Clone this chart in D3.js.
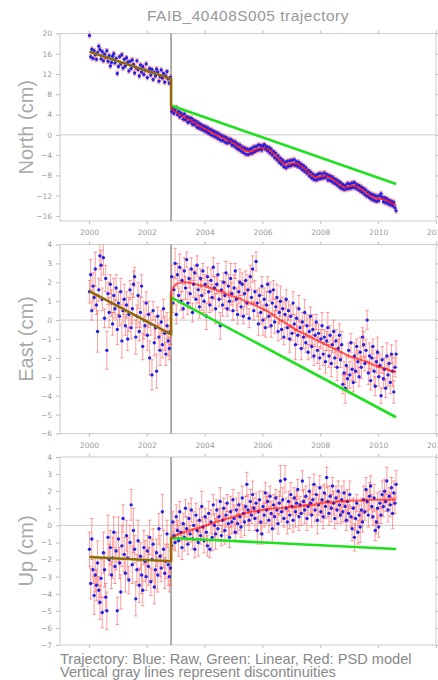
<!DOCTYPE html>
<html>
<head>
<meta charset="utf-8">
<script src="https://cdn.jsdelivr.net/npm/d3@7"></script>
<style>
  html, body { margin: 0; padding: 0; background: #fff; }
  svg { display: block; }
</style>
</head>
<body>
<svg id="chart" width="438" height="680"></svg>
<script>
// ---- Observation epochs (decimal years) ----
const epochs = [
  2000.02,2000.06,2000.10,2000.14,2000.18,2000.22,2000.26,2000.30,2000.34,2000.38,
  2000.42,2000.46,2000.50,2000.54,2000.58,2000.62,2000.66,2000.70,2000.74,2000.78,
  2000.82,2000.86,2000.90,2000.94,2000.98,2001.02,2001.06,2001.10,2001.14,2001.18,
  2001.22,2001.26,2001.30,2001.34,2001.38,2001.42,2001.46,2001.50,2001.54,2001.58,
  2001.62,2001.66,2001.70,2001.74,2001.78,2001.82,2001.86,2001.90,2001.94,2001.98,
  2002.02,2002.06,2002.10,2002.14,2002.18,2002.22,2002.26,2002.30,2002.34,2002.38,
  2002.42,2002.46,2002.50,2002.54,2002.58,2002.62,2002.66,2002.70,2002.74,2002.78,
  2002.82,
  2002.86,2002.90,2002.94,2002.98,2003.02,2003.06,2003.10,2003.14,2003.18,2003.22,
  2003.26,2003.30,2003.34,2003.38,2003.42,2003.46,2003.50,2003.54,2003.58,2003.62,
  2003.66,2003.70,2003.74,2003.78,2003.82,2003.86,2003.90,2003.94,2003.98,2004.02,
  2004.06,2004.10,2004.14,2004.18,2004.22,2004.26,2004.30,2004.34,2004.38,2004.42,
  2004.46,2004.50,2004.54,2004.58,2004.62,2004.66,2004.70,2004.74,2004.78,2004.82,
  2004.86,2004.90,2004.94,2004.98,2005.02,2005.06,2005.10,2005.14,2005.18,2005.22,
  2005.26,2005.30,2005.34,2005.38,2005.42,2005.46,2005.50,2005.54,2005.58,2005.62,
  2005.66,2005.70,2005.74,2005.78,2005.82,2005.86,2005.90,2005.94,2005.98,2006.02,
  2006.06,2006.10,2006.14,2006.18,2006.22,2006.26,2006.30,2006.34,2006.38,2006.42,
  2006.46,2006.50,2006.54,2006.58,2006.62,2006.66,2006.70,2006.74,2006.78,2006.82,
  2006.86,2006.90,2006.94,2006.98,2007.02,2007.06,2007.10,2007.14,2007.18,2007.22,
  2007.26,2007.30,2007.34,2007.38,2007.42,2007.46,2007.50,2007.54,2007.58,2007.62,
  2007.66,2007.70,2007.74,2007.78,2007.82,2007.86,2007.90,2007.94,2007.98,2008.02,
  2008.06,2008.10,2008.14,2008.18,2008.22,2008.26,2008.30,2008.34,2008.38,2008.42,
  2008.46,2008.50,2008.54,2008.58,2008.62,2008.66,2008.70,2008.74,2008.78,2008.82,
  2008.86,2008.90,2008.94,2008.98,2009.02,2009.06,2009.10,2009.14,2009.18,2009.22,
  2009.26,2009.30,2009.34,2009.38,2009.42,2009.46,2009.50,2009.54,2009.58,2009.62,
  2009.66,2009.70,2009.74,2009.78,2009.82,2009.86,2009.90,2009.94,2009.98,2010.02,
  2010.06,2010.10,2010.14,2010.18,2010.22,2010.26,2010.30,2010.34,2010.38,2010.42,
  2010.46,2010.50,2010.54,2010.58,2010.62
];

// ---- Raw positions (cm) ----
const north = [
  19.6,15.4,16.9,15.1,16.6,15.8,14.9,16.2,17.5,16.8,
  15.0,16.4,14.6,15.9,15.3,16.6,14.5,15.6,13.6,14.3,
  15.5,16.0,14.2,15.1,12.1,13.5,15.4,14.0,15.8,13.2,
  14.9,13.6,15.2,14.3,12.6,14.5,13.1,14.8,13.9,12.2,
  13.3,14.6,12.9,11.6,13.8,12.4,13.5,11.9,12.8,14.0,
  11.3,12.6,13.1,11.8,12.9,10.9,12.3,11.6,13.0,12.4,
  10.6,11.5,12.8,11.2,12.1,10.4,11.6,12.5,11.0,10.2,
  11.4,
  4.6,5.3,4.2,4.9,5.4,4.0,4.6,3.5,4.3,3.9,
  3.1,4.1,3.0,3.6,2.5,3.4,2.6,3.3,2.1,2.9,
  2.0,2.7,1.5,2.4,1.3,2.1,1.1,1.8,0.8,1.6,
  0.6,1.4,0.3,1.1,0.0,0.9,-0.2,0.6,-0.4,0.4,
  -0.7,0.2,-1.0,-0.1,-1.1,-0.3,-1.4,-0.5,-1.6,-0.8,
  -1.5,-0.9,-2.0,-1.2,-2.2,-1.4,-2.6,-1.8,-2.9,-2.0,
  -3.2,-2.4,-3.5,-2.6,-3.8,-2.8,-3.9,-2.9,-3.7,-2.7,
  -3.6,-2.4,-3.3,-2.3,-3.1,-2.0,-2.9,-2.1,-3.0,-2.2,
  -1.9,-2.8,-2.3,-3.2,-2.5,-3.6,-2.8,-4.0,-3.3,-4.5,
  -3.6,-4.9,-4.1,-5.4,-4.6,-5.8,-5.0,-6.3,-5.4,-6.5,
  -5.2,-6.2,-5.1,-6.1,-5.0,-5.9,-4.9,-6.0,-5.3,-6.2,
  -5.4,-6.5,-5.8,-6.9,-6.1,-7.2,-6.5,-7.6,-7.0,-8.1,
  -7.3,-8.5,-7.7,-8.8,-8.0,-8.9,-7.8,-8.7,-7.6,-8.6,
  -7.7,-8.5,-7.5,-8.4,-7.8,-8.9,-8.0,-9.0,-8.2,-9.3,
  -8.5,-9.6,-8.8,-9.9,-9.1,-10.3,-9.4,-10.6,-9.8,-10.8,
  -10.0,-10.7,-9.6,-10.6,-9.7,-10.5,-9.5,-10.4,-9.4,-10.5,
  -9.8,-10.8,-10.0,-11.1,-10.3,-11.4,-10.6,-11.8,-10.9,-12.1,
  -11.3,-12.4,-11.6,-12.7,-11.8,-12.9,-12.0,-13.1,-12.1,-13.0,
  -12.0,-11.6,-12.3,-13.2,-12.4,-13.4,-12.6,-13.6,-12.9,-13.8,
  -13.1,-14.0,-13.3,-14.4,-15.0
];

const east = [
  1.5,2.4,0.5,1.8,1.2,2.7,0.8,-0.6,1.6,3.4,
  2.9,1.1,3.3,0.1,2.2,-1.6,1.4,0.4,1.9,0.9,
  -0.2,1.3,0.6,1.7,-0.5,0.9,0.2,1.5,-1.1,0.5,
  1.1,-0.3,0.8,-1.0,0.3,1.6,-0.4,0.6,1.9,2.3,
  -0.9,0.2,1.3,-0.6,0.4,1.8,-1.4,0.0,-0.3,0.9,
  -0.8,0.3,-2.0,-0.2,-2.9,0.5,-1.2,-0.4,-2.7,0.2,
  -0.9,-1.6,-0.1,-1.3,0.6,-0.7,-1.8,-0.3,-1.1,-1.5,
  -0.6,
  2.3,0.9,1.6,3.0,0.3,2.4,1.3,2.8,1.0,2.1,
  0.6,2.6,1.7,3.2,0.9,2.2,1.4,2.7,0.4,1.9,
  2.5,1.1,2.9,1.6,0.7,2.2,1.3,2.6,1.0,1.9,
  0.2,2.3,1.5,0.8,2.1,1.2,2.8,1.7,0.6,1.9,
  2.4,1.1,-0.3,1.6,0.8,2.0,1.3,2.5,0.6,1.8,
  1.0,2.2,1.4,0.5,1.7,2.6,1.1,0.3,1.5,2.0,
  0.7,1.9,0.2,1.4,2.1,0.9,1.6,0.1,2.3,1.2,
  2.7,0.5,1.5,3.1,0.9,-0.2,1.3,0.4,1.8,0.0,
  1.1,-0.4,0.8,1.9,0.2,1.5,-0.3,0.9,1.6,-0.1,
  0.7,1.2,-0.6,0.4,1.0,-0.5,0.6,-0.9,0.3,1.1,
  -0.4,0.5,-1.0,0.2,-0.7,0.9,-0.2,-1.3,0.1,-0.8,
  0.6,-0.4,-1.5,-0.1,-0.9,0.4,-1.2,-0.3,-1.7,-0.6,
  0.2,-1.4,-0.5,-1.9,-0.8,-0.1,-1.6,-0.7,-2.0,-1.0,
  -0.3,-1.8,-0.9,-2.2,-1.1,-0.4,-1.9,-0.8,-2.3,-1.3,
  -0.6,-2.0,-1.1,-2.5,-1.5,-0.8,-2.1,-1.3,-3.4,-2.8,
  -3.6,-2.4,-3.1,-1.6,-2.9,-1.2,-2.6,-3.3,-1.9,-2.7,
  -1.4,-2.2,-3.0,-1.7,-2.5,-0.9,-1.3,-2.3,-1.6,0.0,
  -2.8,-1.9,-3.2,-2.0,-1.4,-2.7,-3.5,-2.2,-1.7,-3.0,
  -2.4,-4.0,-2.1,-3.1,-2.6,-3.6,-1.9,-2.9,-2.3,-3.3,
  -1.8,-2.7,-3.8,-2.5,-1.8
];

const up = [
  -1.4,-3.4,-0.8,-2.6,-4.1,-2.9,-3.5,-2.2,-3.8,-4.5,
  -3.1,-5.1,-1.6,-2.6,-4.2,-5.0,-0.7,-2.0,-1.3,-2.9,
  -1.9,-0.4,-2.4,-1.5,-5.0,-0.8,-2.2,-3.9,-1.2,0.4,
  -1.7,-2.8,-0.6,-1.9,-3.2,-1.0,1.2,-2.3,-0.3,-1.4,
  -4.3,-2.6,-0.9,-3.5,-1.8,-2.9,-3.8,-1.3,-2.1,-3.0,
  -1.5,-2.4,-0.7,-3.3,-2.0,-1.1,-3.6,-2.6,-1.6,-2.9,
  -0.2,-1.8,-2.5,0.8,-1.4,-2.8,-2.1,-0.5,-2.3,-3.0,
  -2.5,
  -1.2,0.2,-0.6,-1.0,0.5,-0.3,-0.9,0.8,-0.4,-1.3,
  0.1,-0.7,1.0,-0.2,-1.1,0.4,-0.5,0.9,-0.8,0.0,
  -1.4,0.6,-0.3,-1.0,0.3,-0.6,1.1,-0.1,-0.9,0.5,
  -0.4,-1.2,0.7,-1.4,0.2,-0.7,1.2,0.0,-0.5,0.9,
  -0.2,0.5,1.4,-0.6,0.3,1.0,-0.3,0.6,1.3,0.1,
  -0.7,0.8,0.2,1.5,0.4,-0.4,0.9,0.1,1.2,0.5,
  -0.1,1.6,0.7,0.2,1.1,2.4,0.9,0.3,1.4,0.6,
  1.8,1.0,0.4,1.3,-0.3,0.8,1.5,0.2,-0.5,1.1,
  0.6,1.9,0.9,1.4,0.3,1.7,0.7,-0.2,1.2,0.5,
  1.6,0.9,0.1,1.3,2.6,0.8,1.5,0.4,2.7,1.0,
  0.2,1.4,0.6,1.8,1.1,0.3,1.6,0.8,1.3,2.1,
  0.5,1.2,0.7,2.6,1.4,0.9,1.7,0.4,1.1,2.0,
  1.3,0.6,1.5,2.4,0.9,1.8,0.3,1.2,2.2,0.8,
  1.5,0.5,1.9,1.1,2.8,1.4,0.7,1.7,1.0,2.3,
  1.3,0.4,1.6,0.9,2.0,1.2,0.6,1.5,0.8,1.9,
  1.1,0.3,1.4,0.7,1.8,0.5,-0.2,1.0,-0.7,0.4,
  1.3,-0.4,0.6,-0.1,0.9,0.2,1.5,0.8,2.1,1.4,
  0.6,1.7,2.3,1.1,0.5,1.6,-0.3,0.2,1.0,-0.1,
  1.3,0.6,1.8,1.1,2.0,1.4,2.6,0.9,1.7,1.2,
  2.2,0.7,1.9,1.3,2.4
];

// ---- One-sigma uncertainties (cm) ----
const sigmaNorth = 0.45;

const sigmaEast = [
  .6,.8,.5,.7,.6,.9,.5,1.1,.6,.7,
  .8,.6,.9,.5,.7,1.0,.6,.8,.5,.7,
  .6,.9,.5,.7,.8,.6,.5,.7,.9,.6,
  .8,.5,.7,.6,.9,.5,.6,.8,.7,.5,
  .9,.6,.7,.5,.8,.6,.7,1.0,.5,.6,
  .8,.7,.9,.6,.8,.5,.7,.6,.9,.5,
  .7,.8,.6,.7,.5,.9,.6,.7,.8,.6,
  .7,
  .6,.5,.7,.8,.5,.6,.4,.7,.5,.6,
  .5,.7,.6,.4,.6,.5,.8,.6,.5,.7,
  .4,.6,.5,.7,.6,.5,.8,.4,.6,.5,
  .7,.5,.6,.4,.6,.7,.5,.6,.8,.5,
  .6,.4,.7,.5,.6,.5,.7,.6,.4,.6,
  .5,.8,.6,.5,.7,.4,.6,.5,.6,.7,
  .5,.6,.4,.7,.5,.6,.8,.5,.6,.4,
  .7,.5,.6,.5,.7,.6,.4,.6,.5,.8,
  .6,.5,.7,.4,.6,.5,.6,.7,.5,.6,
  .4,.7,.5,.6,.8,.5,.6,.4,.7,.5,
  .6,.5,.7,.6,.4,.6,.5,.8,.6,.5,
  .7,.4,.6,.5,.6,.7,.5,.6,.4,.7,
  .5,.6,.8,.5,.6,.4,.7,.5,.6,.5,
  .7,.6,.4,.6,.5,.8,.6,.5,.7,.4,
  .6,.5,.6,.7,.5,.6,.4,.7,.5,.6,
  .8,.5,.6,.4,.7,.5,.6,.5,.7,.6,
  .4,.6,.5,.8,.6,.5,.7,.4,.6,.5,
  .6,.7,.5,.6,.4,.7,.5,.6,.8,.5,
  .6,.4,.7,.5,.6,.5,.7,.6,.4,.6,
  .5,.8,.6,.5,.7
];

const sigmaUp = [
  1.0,.9,1.2,.8,1.1,1.0,.9,1.3,.8,1.0,
  1.1,.9,1.2,1.0,.8,1.1,1.3,.9,1.0,.8,
  1.2,.9,1.0,1.1,.8,1.3,.9,1.0,1.2,.8,
  1.0,1.1,.9,1.2,.8,1.0,.9,1.1,1.3,.8,
  1.0,.9,1.2,1.0,.8,1.1,.9,1.0,1.2,.8,
  .9,1.1,1.0,.8,1.2,.9,1.0,1.1,.8,1.0,
  .9,1.2,.8,1.0,1.1,.9,1.0,.8,1.2,.9,
  1.0,
  .7,.6,.8,.5,.7,.6,.9,.6,.5,.7,
  .6,.8,.5,.7,.6,.9,.5,.7,.6,.8,
  .5,.7,.6,.8,.7,.5,.9,.6,.7,.5,
  .8,.6,.7,.5,.7,.8,.6,.7,.9,.6,
  .7,.5,.8,.6,.7,.6,.8,.7,.5,.7,
  .6,.9,.7,.6,.8,.5,.7,.6,.7,.8,
  .6,.7,.5,.8,.6,.7,.9,.6,.7,.5,
  .8,.6,.7,.6,.8,.7,.5,.7,.6,.9,
  .7,.6,.8,.5,.7,.6,.7,.8,.6,.7,
  .5,.8,.6,.7,.9,.6,.7,.5,.8,.6,
  .7,.6,.8,.7,.5,.7,.6,.9,.7,.6,
  .8,.5,.7,.6,.7,.8,.6,.7,.5,.8,
  .6,.7,.9,.6,.7,.5,.8,.6,.7,.6,
  .8,.7,.5,.7,.6,.9,.7,.6,.8,.5,
  .7,.6,.7,.8,.6,.7,.5,.8,.6,.7,
  .9,.6,.7,.5,.8,.6,.7,.6,.8,.7,
  .5,.7,.6,.9,.7,.6,.8,.5,.7,.6,
  .7,.8,.6,.7,.5,.8,.6,.7,.9,.6,
  .7,.5,.8,.6,.7,.6,.8,.7,.5,.7,
  .6,.9,.7,.6,.8
];

// ---- PSD model (red) ----
const modelEpochs = [
  2000.02, 2002.84, 2002.84,
  2003.0, 2003.2, 2003.4, 2003.6, 2003.8, 2004.0, 2004.2, 2004.4, 2004.6, 2004.8,
  2005.0, 2005.2, 2005.4, 2005.6, 2005.8, 2006.0, 2006.2, 2006.4, 2006.6, 2006.8,
  2007.0, 2007.2, 2007.4, 2007.6, 2007.8, 2008.0, 2008.2, 2008.4, 2008.6, 2008.8,
  2009.0, 2009.2, 2009.4, 2009.6, 2009.8, 2010.0, 2010.2, 2010.4,
  2010.62
];
const modelNorth = [
  16.41, 11.05, 5.2,
  4.6, 3.8, 3.2, 2.6, 1.8, 1.2, 0.6, 0.0, -0.5, -1.1,
  -1.6, -2.4, -3.1, -3.3, -2.9, -2.6, -2.8, -3.8, -5.0, -5.9,
  -5.7, -5.6, -6.4, -7.5, -8.4, -8.2, -8.1, -8.6, -9.5, -10.3,
  -10.2, -10.0, -10.6, -11.5, -12.3, -12.6, -12.7, -13.2,
  -13.9
];
const modelEast = [
  1.53, -0.75, 1.5,
  1.9, 2.0, 2.0, 1.95, 1.85, 1.8, 1.7, 1.6, 1.5, 1.35,
  1.25, 1.15, 1.0, 0.9, 0.75, 0.6, 0.45, 0.25, 0.0, -0.15,
  -0.35, -0.55, -0.7, -0.85, -1.0, -1.15, -1.3, -1.45, -1.6, -1.75,
  -1.9, -2.0, -2.1, -2.2, -2.35, -2.45, -2.55, -2.65,
  -2.75
];
const modelUp = [
  -1.85, -2.1, -0.74,
  -0.6, -0.45, -0.35, -0.25, -0.15, -0.05, 0.1, 0.2, 0.3, 0.4,
  0.5, 0.6, 0.7, 0.8, 0.85, 0.9, 0.95, 1.0, 1.0, 1.05,
  1.1, 1.1, 1.15, 1.2, 1.2, 1.3, 1.35, 1.35, 1.4, 1.4,
  1.45, 1.45, 1.45, 1.5, 1.5, 1.5, 1.5, 1.5,
  1.5
];

// ---- Linear trajectory (green) ----
const linearEpochs = [2000.02, 2002.84, 2002.84, 2010.62];
const linearNorth = [16.41, 11.05, 5.8, -9.7];
const linearEast = [1.53, -0.75, 1.2, -5.14];
const linearUp = [-1.85, -2.1, -0.74, -1.38];

// ---- Discontinuities and axis ticks ----
const discontinuities = [2002.84];
const yearTicks = [2000, 2002, 2004, 2006, 2008, 2010, 2012];
const northTicks = [-16, -12, -8, -4, 0, 4, 8, 12, 16, 20];
const eastTicks = [-6, -5, -4, -3, -2, -1, 0, 1, 2, 3, 4];
const upTicks = [-7, -6, -5, -4, -3, -2, -1, 0, 1, 2, 3, 4];

const title = "FAIB_40408S005 trajectory";
const footer = [
  "Trajectory: Blue: Raw, Green: Linear, Red: PSD model",
  "Vertical gray lines represent discontinuities"
];

// ---- Drawing ----
const svg = d3.select("#chart");
const x = d3.scaleLinear().domain([1999, 2012]).range([60, 436]);
const [L, R] = x.range();

const panels = [
  { label: "North (cm)", values: north, sigma: () => sigmaNorth, model: modelNorth,
    linear: linearNorth, domain: [-17, 20], ticks: northTicks, top: 33.5, bottom: 221, years: true },
  { label: "East (cm)", values: east, sigma: i => sigmaEast[i], model: modelEast,
    linear: linearEast, domain: [-6, 4], ticks: eastTicks, top: 244.5, bottom: 433.5, years: true },
  { label: "Up (cm)", values: up, sigma: i => sigmaUp[i], model: modelUp,
    linear: linearUp, domain: [-7, 4], ticks: upTicks, top: 457, bottom: 645, years: false }
];

svg.append("text")
  .attr("x", (L + R) / 2).attr("y", 20.5)
  .attr("text-anchor", "middle")
  .attr("font-family", "Liberation Sans, Arial, sans-serif")
  .attr("font-size", 15.5).attr("letter-spacing", 0.5)
  .attr("fill", "#999")
  .text(title);

const tickFont = g => g
  .attr("font-family", "DejaVu Sans, sans-serif")
  .attr("font-size", 7.5)
  .call(s => s.select(".domain").remove())
  .call(s => s.selectAll(".tick line").attr("stroke", "#bbb"))
  .call(s => s.selectAll(".tick text").attr("fill", "#999"));

panels.forEach((p, pi) => {
  const y = d3.scaleLinear().domain(p.domain).range([p.bottom, p.top]);
  const g = svg.append("g");
  const clipId = "clip" + pi;
  svg.append("clipPath").attr("id", clipId)
    .append("rect").attr("x", L).attr("y", p.top).attr("width", R - L).attr("height", p.bottom - p.top);

  // axes on all four sides
  g.append("g").attr("transform", `translate(${L},0)`)
    .call(d3.axisLeft(y).tickValues(p.ticks).tickSize(4).tickPadding(4)).call(tickFont);
  g.append("g").attr("transform", `translate(${R},0)`)
    .call(d3.axisRight(y).tickValues(p.ticks).tickSize(3).tickFormat("")).call(tickFont);
  g.append("g").attr("transform", `translate(0,${p.top})`)
    .call(d3.axisTop(x).tickValues(yearTicks).tickSize(3).tickFormat("")).call(tickFont);
  g.append("g").attr("transform", `translate(0,${p.bottom})`)
    .call(d3.axisBottom(x).tickValues(yearTicks).tickSize(3).tickPadding(6)
      .tickFormat(p.years ? d3.format("d") : "")).call(tickFont);

  // frame and zero line
  g.append("rect").attr("x", L).attr("y", p.top)
    .attr("width", R - L).attr("height", p.bottom - p.top)
    .attr("fill", "none").attr("stroke", "#ccc").attr("stroke-width", 1);
  g.append("line").attr("x1", L).attr("x2", R)
    .attr("y1", y(0)).attr("y2", y(0))
    .attr("stroke", "#ccc").attr("stroke-width", 1);

  // discontinuities
  g.selectAll("line.disc").data(discontinuities).join("line")
    .attr("class", "disc")
    .attr("x1", d => x(d)).attr("x2", d => x(d))
    .attr("y1", p.top).attr("y2", p.bottom)
    .attr("stroke", "#8c8c8c").attr("stroke-width", 1.4);

  const data = g.append("g").attr("clip-path", `url(#${clipId})`);

  // error bars
  const eb = data.append("g")
    .attr("stroke", "#ff5050").attr("stroke-opacity", 0.55).attr("stroke-width", 1);
  epochs.forEach((t, i) => {
    const v = p.values[i], s = p.sigma(i);
    const cx = x(t), y1 = y(v - s), y2 = y(v + s);
    eb.append("line").attr("x1", cx).attr("x2", cx).attr("y1", y1).attr("y2", y2);
    eb.append("line").attr("x1", cx - 1.8).attr("x2", cx + 1.8).attr("y1", y1).attr("y2", y1);
    eb.append("line").attr("x1", cx - 1.8).attr("x2", cx + 1.8).attr("y1", y2).attr("y2", y2);
  });

  // raw points
  data.append("g").selectAll("circle").data(epochs).join("circle")
    .attr("cx", d => x(d))
    .attr("cy", (d, i) => y(p.values[i]))
    .attr("r", 1.7)
    .attr("fill", "#2323e6");

  // linear trajectory
  data.append("path")
    .datum(linearEpochs.map((t, i) => [t, p.linear[i]]))
    .attr("d", d3.line().x(d => x(d[0])).y(d => y(d[1])))
    .attr("fill", "none").attr("stroke", "#1fe01f").attr("stroke-width", 2.6);

  // PSD model
  data.append("path")
    .datum(modelEpochs.map((t, i) => [t, p.model[i]]))
    .attr("d", d3.line().x(d => x(d[0])).y(d => y(d[1])))
    .attr("fill", "none").attr("stroke", "#ff0000").attr("stroke-opacity", 0.6)
    .attr("stroke-width", 2.2).attr("stroke-linejoin", "round");

  // axis title
  svg.append("text")
    .attr("transform", `translate(33,${(p.top + p.bottom) / 2}) rotate(-90)`)
    .attr("text-anchor", "middle")
    .attr("font-family", "Liberation Sans, Arial, sans-serif")
    .attr("font-size", 20)
    .attr("fill", "#aaa")
    .text(p.label);
});

svg.append("g").selectAll("text").data(footer).join("text")
  .attr("x", 60).attr("y", (d, i) => 664 + i * 12.5)
  .attr("font-family", "Liberation Sans, Arial, sans-serif")
  .attr("font-size", 14.6)
  .attr("fill", "#888")
  .text(d => d);
</script>
</body>
</html>
